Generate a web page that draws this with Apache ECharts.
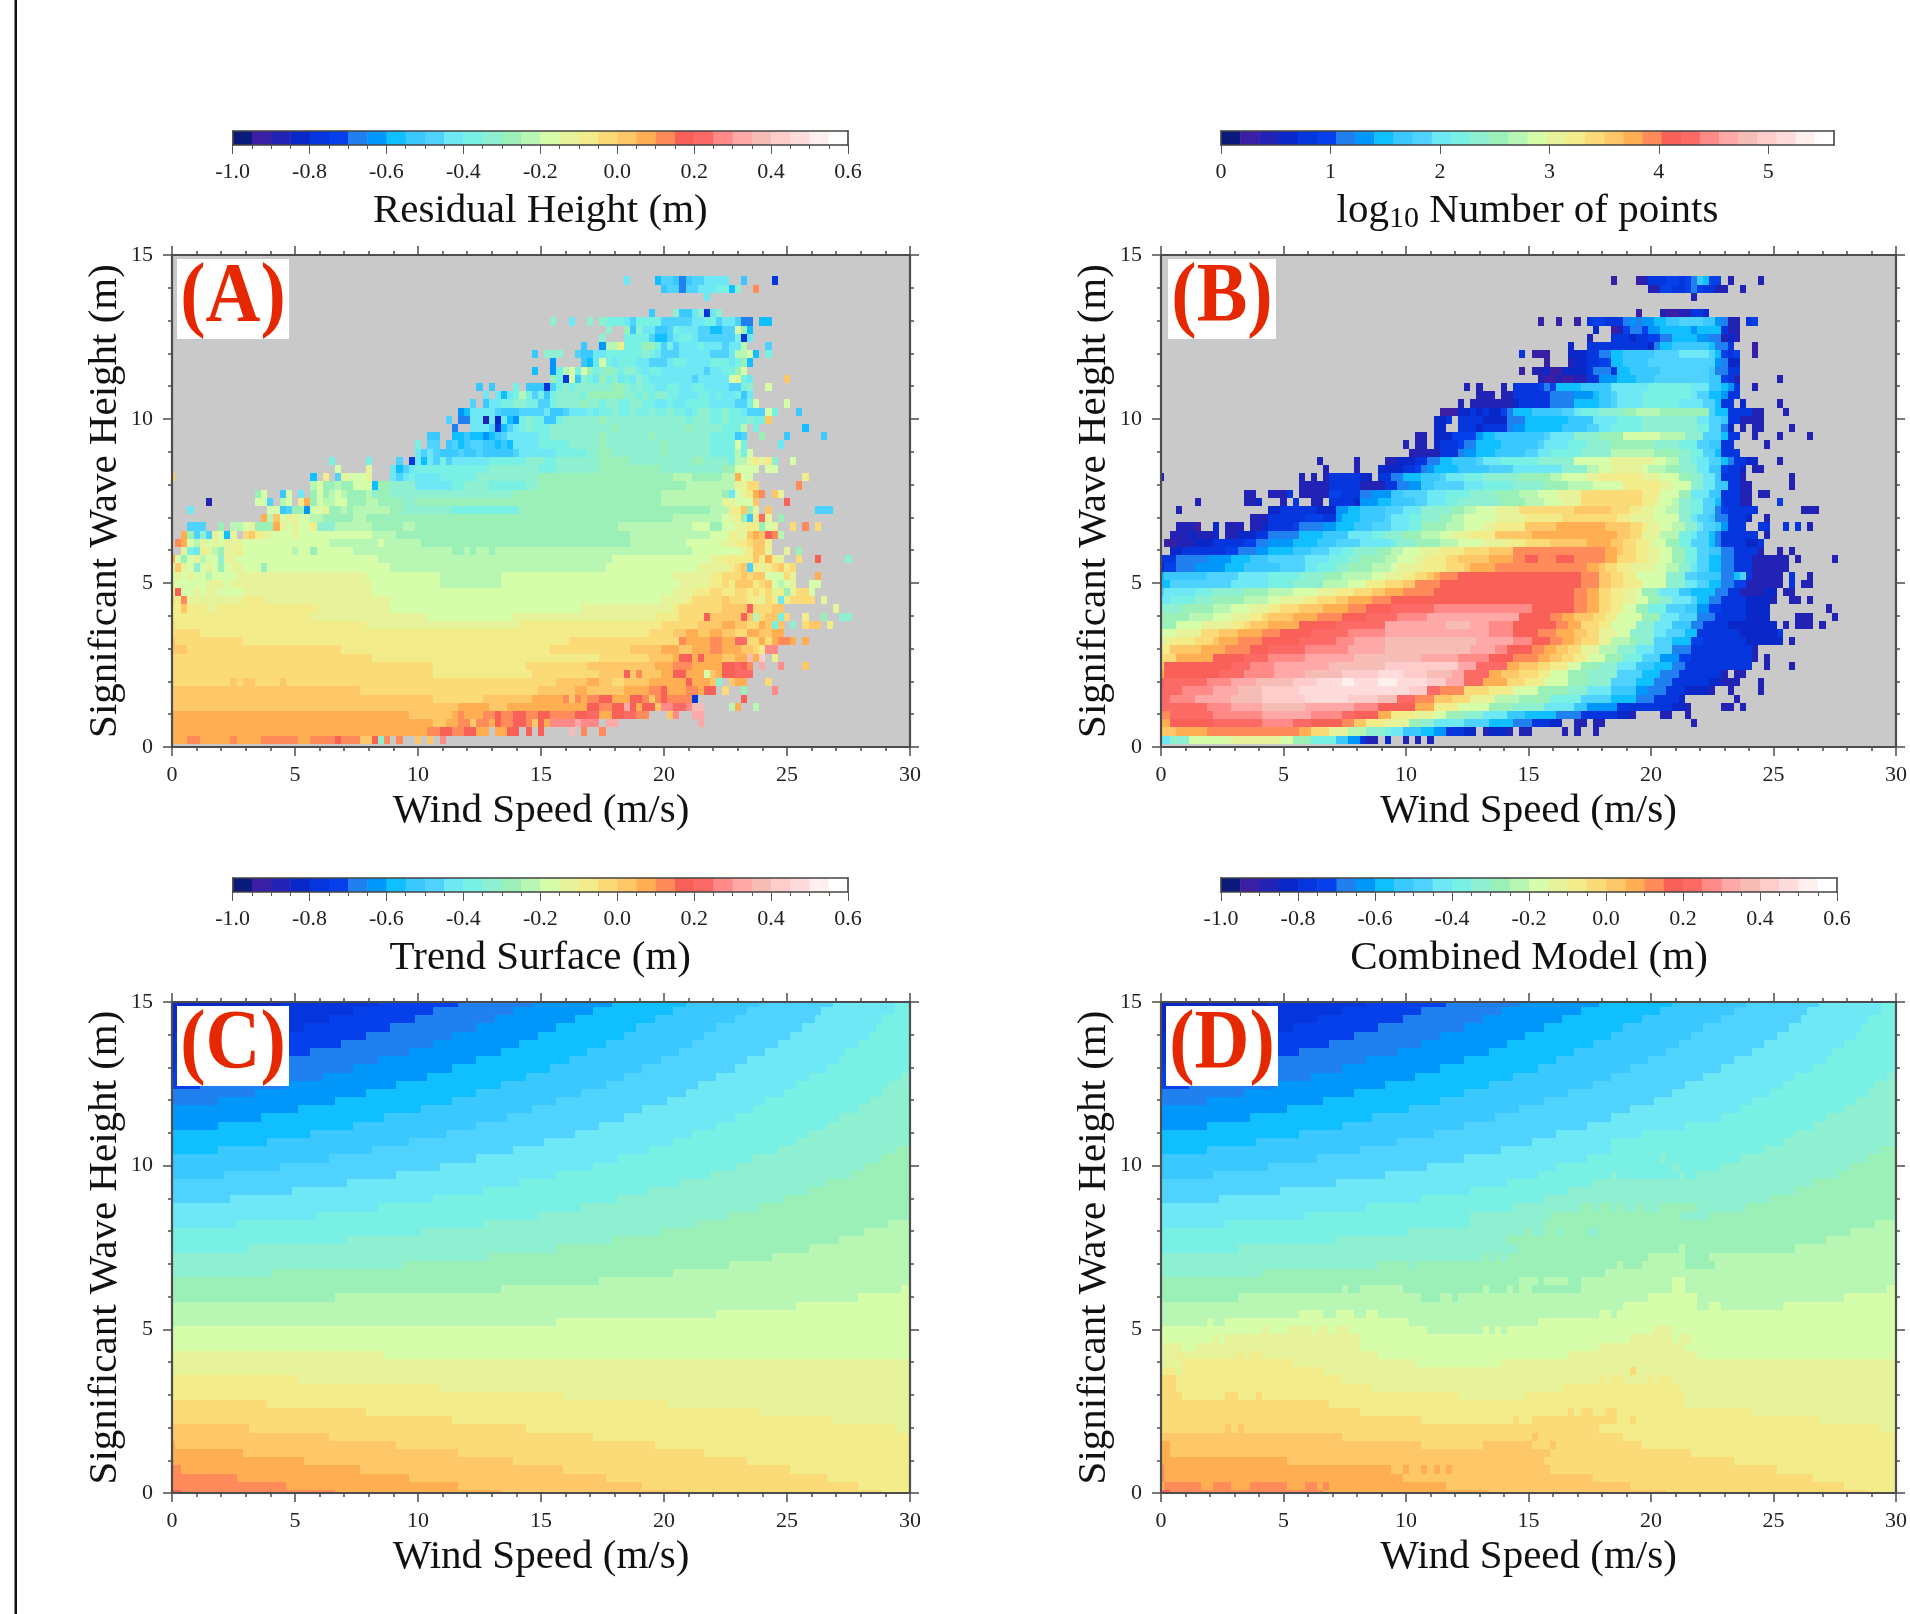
<!DOCTYPE html>
<html><head><meta charset="utf-8"><title>Residual height panels</title>
<script src="https://cdn.jsdelivr.net/npm/echarts@6/dist/echarts.min.js"></script>
<style>html,body{margin:0;padding:0;background:#fff}#chart{width:1910px;height:1614px;filter:blur(0.5px)}</style>
</head><body><div id="chart"></div>
<script>
// Tick labels
const windTicks = [0, 5, 10, 15, 20, 25, 30];
const waveTicks = [0, 5, 10, 15];
const metreBarTicks = [-1.0, -0.8, -0.6, -0.4, -0.2, 0.0, 0.2, 0.4, 0.6];
const logBarTicks = [0, 1, 2, 3, 4, 5];
// Colour classes of the bars: a..z then A..F, lowest to highest, "." = no data
const levelCodes = "abcdefghijklmnopqrstuvwxyzABCDEF";
// Rows run from 15 m down to 0 m. Each token: start column (0.25 m/s each), then class codes; the last code runs on.
const residualRows = [
"","","",
"74l 75. 79ikkjgjkkllllm 91. 93j 94. 98e 99.",
"80jkkgkklllmmin 93. 95w 96.",
"87l 88.",
"",
"78j 79. 82njjlneln 90.",
"62n 63. 65l 66. 68n 69. 70nmmmlkmmmmkkkkkllmmkllkgg.ii 98.",
"71n..ojnlljjkmlllkkiikkqoi 95.",
"70n 71. 74mmmmkiiklmmlkkkkkkmel 95.",
"67j 68. 70hppsmmmoomkmklllmlllkllp 94. 97k 98.",
"59j 60. 61nnn 64. 66kjjllmmmmmmnmlkkklllllkkklppqi.m 98.",
"62h 63. 67jilqmlmmmllkkklmmllllmmmlmoi 95.",
"59i 60. 62hmpqmqomnonmnnmlmmlllllllkllmmoq 94.",
"62omeqjnmlomnlmlnmlllllllklllllqrml 95. 100u 101.",
"50j 51. 52j 53. 56m 57. 58jjjekmnmnnnnnnoonmnmmllmmllmmllllkkmn 95. 97q 98.",
"51l 52. 53lilmpmkmjmnnnnmoooooonnmnmnnmmlllmmlmllmjl 95.",
"49k 50. 51jllmmnnmmkkmnnnnonnmnnmmnnmmllmllmmmmllllkkmq 96. 100q 101.",
"47hillllkjjjkkkkljjklllmlmmnmmnmmnmmnmmlmnnmmnmmlkkk 97qm 99. 102j 103.",
"45k 46. 47ggllcldlihmnmmjjmnnnnnnonnnnnnnnnnnnnmnnnmmnmmmnm 97u 98.",
"46g 47. 49lllkeiklmnmmm 62n 72o 73n 84o 85n 90m 93p 94. 95m 96. 103i 104.",
"42jj 44. 46iijiihijk 55l 60m 62n 70o 71n 78o 79n 88m 92j 93k 94. 96o 97. 100j 101. 106j 107.",
"40m 41. 42kk 44. 45jkijkkjjiji 56l 60m 65n 70o 71n 80o 81n 88m 92q 93m 94. 99l 100.",
"40lklkj 45jjkjjkjjj 56k 57l 63m 68n 70o 72n 80o 81n 88m 92p 93m 94q 95.",
"26m 27. 32m 33. 37k 38. 39elilkmk 46l 52m 58n 61m 63n 70o 75n 85o 87n 91m 92p 94rsrs 98n 99. 101q 102.",
"27q 28. 32r 33. 36likl 40m 52n 60m 63n 70o 80n 90o 92q 96. 97qq 99.",
"0u 1. 23i 24. 25s 26. 27krqqq 32r 33. 36lklm 40l 44m 50n 60o 82p 85o 90p 92v 93q 95. 103s 104.",
"23pqoopooqqqi 34o 36n 40l 46m 48n 52m 58n 60o 84p 92r 94tt 96. 102w 103.",
"14oq 16. 18jq 20. 21l 22. 23oqopqpooopnoon 37n 56o 80p 90o 91l 92q 93r 94sv 96w 97. 98ur 100.",
"6c 7. 14qq 16k 17. 18p 19q 20. 21sv 23o 24qppqq 29o 32p 34o 38n 40o 80p 90r 92q 95u 96. 100x 101.",
"3l 4. 16q 18jk 20o 22hq 24qr 26oopo 30p 36o 38n 46m 57o 88p 91s 93u 94o 95r 96. 97u 98. 105kkk 108.",
"15v 16p 17u 18qr 21q 23p 25o 30p 32o 40o 82p 90q 91r 92s 93o 94j 95s 96y 97r 98. 99o 100.",
"3kkk 6. 8o 9. 10pp 12q 13r 14o 17v 18rqr 21q 23s 24n 27p 33o 38p 40o 73p 85q 88o 90q 92r 94s 96o 97q 98r 99. 101t 102. 103w 104. 105t 106.",
"2v 3oknkr 8q 9i 10r 11. 12tu 14s 15r 17q 20r 21q 33p 37o 75p 88q 91s 92r 94u 95v 96u 97x 98w 99p 100.",
"1wv 3qpr 6qrqr 10r 12q 26p 34q 35p 41o 75p 84q 90r 92s 94tuus 98.",
"2r 3ml 5s 6r 7p 8o 9r 11s 12q 20p 21q 23o 24q 30p 46o 48p 49o 50p 52o 53p 85q 93r 94s 95u 97r 98. 100r 101. 102o 103.",
"0v 1q 2o 3q 4r 5p 6q 8n 9r 11q 34p 72q 88r 90s 93s 95u 96s 97v 98s 99r 100. 102t 103. 105x 106. 110n 111.",
"0r 1u 2rqn 5qrqoq 10r 12q 15o 16q 36p 71q 86r 89r 91s 92t 93u 94k 95s 96r 97s 98t 99u 100s 101t 102.",
"0q 1r 2q 3r 4q 6p 7q 11r 32q 44p 54q 82r 88s 90t 93u 94t 95u 97q 100t 101r 102. 105v 106.",
"0r 1q 6r 9q 10r 33q 44p 54q 83r 88s 90t 91s 92u 95s 96t 97u 98q 99p 100q 101r 102. 104qq 106.",
"0s 1x 2q 4r 5q 6r 8q 12r 33q 82r 85s 88t 90s 92t 94s 95t 96s 97t 98r 99s 100o 101r 102t 104q 105.",
"0t 1s 2w 3r 12s 16r 36q 80r 84s 85t 90u 91t 94s 96r 97t 98s 99l 100s 101t 103t 105. 106r 107.",
"0s 2u 3s 6r 8s 24r 36q 67r 82s 83t 90u 94x 95t 98uu 100. 108r 109.",
"0s 23r 42q 56r 79s 83t 87x 88u 93x 94u 95p 96t 97u 99m 100t 101. 103s 104. 106o 107. 109n 111.",
"0t 1s 32r 57s 80t 86u 90v 92u 94t 96v 97u 98m 99u 100. 101n 102. 103t 104uu 106. 107s 108.",
"0t 5s 78t 82u 84v 86u 88v 90u 92t 94v 96u 98v 100.",
"0u 1t 12s 65t 83w 84v 88w 90v 92y 94t 96v 97t 98v 99w 101v 102. 103v 104.",
"0u 3t 28s 62t 75u 80v 83u 85v 88w 90v 93u 95t 96s 97zz 99.",
"0t 33s 70t 78u 82v 83x 85v 86x 87v 90u 92v 94B 95v 96C 97. 98s 99.",
"0t 43s 58t 68u 79v 82w 85v 90x 92y 93x 94w 95. 96A 97. 99z 100. 103u 104.",
"0t 43s 59t 70u 74x 75u 76w 77u 80v 82x 84v 87q 88u 89v 90x 92y 95.",
"0t 10u 11t 12uu 14t 18u 19t 63u 68v 70u 72t 74u 78v 84x 85v 88u 89n 90. 91u 92v 94. 97t 98.",
"0u 31t 60u 66v 68u 74v 78w 80x 81v 84w 86v 87x 89. 90t 91. 93o 94. 98z 99.",
"0u 43t 51u 59v 64w 65u 66w 67v 68w 70x 72v 75x 77w 78u 79w 80x 81w 85e 86. 93x 94.",
"0u 47v 52u 55v 68x 70w 72x 74A 75x 76v 77x 79u 80z 82y 84z 85BB 87. 91pv 93. 95p 96.",
"0v 39u 46v 47w 48v 51w 53x 54w 56x 58w 60x 62w 66x 68y 70v 72x 74y 76w 78. 81u 82z 83. 85AA 87.",
"0v 43u 45v 47w 49u 50w 52v 53x 54w 56x 58w 59u 60x 61v 62z 66A 67z 70. 71AA 73. 86A 87.",
"0v 42w 44x 46w 48x 50v 52. 53v 55x 57. 58x 59. 60x 61. 65B 66. 67w 68. 70w 71.",
"0v 3w 5v 10w 11v 15w 21v 23w 27x 28w 31u 33x 34n 35w 36. 37w 38. 40u 41. 42u 43. 44z 45.",
""
];
const countRows = [
"","","",
"74b 75. 78bceeeffefgjiff 92. 93c 94. 98c 99.",
"80ccffeefgfeecc 93. 95c 96.",
"87c 88.",
"",
"78b 79. 82cbbcc 87eed 90.",
"62b 63. 65b 66. 68b 69. 70effeee 76g 77h 78g 79h 81i 83j 85k 89j 91h 92g 93cc 95. 96ef 98.",
"71d 72. 74bc 76fggfh 81h 82i 87h 88i 92ecc 95.",
"70c 71. 74eeede 79eff 82gg 84ii 88hhg 92cdc 95.",
"67d 68. 70eeeeeeeeeed 81g 82i 84j 90i 91g 93e 94. 97b 98.",
"59e 60. 61bbb 64. 67ddd 70ee 72gg 74ii 76j 81k 85l 90k 91i 92f 93ef 95. 97b 98.",
"63b 64. 67cdd 70eeff 74i 76j 80k 91h 92g 93d 95.",
"59b 60. 61ccdbbddd 70e 71ggg 74e 75i 77j 82k 90j 91g 93e 95.",
"62cbbcb 67bccd 70e 72h 75i 78j 81k 90j 92f 93e 94c 95. 101c 102.",
"50c 51. 52c 53. 56c 57. 58eeeefgf 65i 69j 74l 80m 87l 90j 92i 93h 94e 95. 97c 98.",
"52cc 54c 55. 56cc 58e 64g 68h 71i 72j 74k 75l 79m 87l 88k 90i 92h 93e 95.",
"49c 50. 51cccccc 57cd 59e 64g 68i 72j 74k 75l 79m 85l 89k 91i 92e 94. 95d 96. 101c 102.",
"46bbb 49ddede 54dd 56fg 58i 61j 66k 68l 69m 72n 76o 78p 82o 90k 91i 93e 97c 99. 102c 103.",
"45d 47e 48. 49ee 51eed 55d 57g 60i 67j 71l 75m 79n 88l 90k 92j 93e 95c 99.",
"45d 47. 49eeed 53eee 57gh 60i 66j 70k 72l 74m 79n 88m 90k 92g 93d 94. 95c 96. 97cc 99. 103c 104.",
"42cc 44. 45ddd 48f 52h 53i 55j 63k 64l 68n 72o 76q 82p 86n 89k 92i 93e 95. 97c 98. 101c 102. 106c 107.",
"40c 41. 42cc 44. 45dee 48ef 50g 52i 56j 62k 63l 67m 70n 74o 81n 85m 88k 90j 92e 94. 99c 100.",
"41cccc 45c 46eee 49g 50h 52i 55j 60k 62l 64m 69n 74p 81o 85n 87m 89k 91i 92e 95.",
"26c 27. 32c 33. 37ccdddee 44g 46i 48j 52k 53l 56m 62n 68q 74r 81q 83p 85n 87m 88l 90k 92i 93g 94e 96d 98. 101c 102.",
"27c 28. 32c 33. 36dddd 40eefgh 45i 49j 54k 58l 66n 70p 72q 74r 79q 80p 83o 85n 88l 90j 92f 93e 95d 96. 97cc 99.",
"0c 1. 23c 24. 25c 26. 27c 28e 33d 35. 36ee 38g 40i 43j 46k 47l 50m 53n 59o 64p 66q 70r 72s 79r 82q 85o 87n 89l 91j 92e 95c 96. 103c 104.",
"23c 28e 33c 37e 39g 41h 43j 45k 50l 53m 58n 63o 67p 71q 76s 82r 84q 87n 89l 91j 93e 95c 97. 103c 104.",
"14cc 16. 18ccc 21e 22. 23c 28f 30e 33g 35h 38j 40k 44l 47m 51n 55o 59p 62q 65r 69t 79s 82q 85o 87l 90j 92e 95c 97. 98cc 100.",
"6c 7. 14ccd 17. 20c 21. 22e 23. 25cc 27. 28e 32d 33h 36i 38j 42k 44l 47m 49n 56o 60p 63q 66r 69t 79s 81r 82q 84p 85n 87m 89k 91i 92e 95c 97. 101f 102.",
"3c 4. 18ddeeeeeeddd 29h 31i 33j 37k 40l 43n 48o 50p 52q 55r 59t 68u 74t 77s 79r 81q 83p 85n 87m 89k 91g 92f 93e 98. 105ccc 108.",
"15ccc 18e 24f 27e 29h 30i 33j 37k 38l 41m 43n 46o 48p 50q 55r 60s 66t 75s 77r 81q 85n 87l 88k 90j 91g 93e 96d 97. 99c 100.",
"3cccb 7. 9d 10. 11ccc 14. 15ccd 18e 22f 23g 27h 29i 32j 35k 38l 41m 43o 47p 50q 53r 55s 60u 65v 73u 77t 79s 80r 82q 84p 86n 88l 89k 91j 92h 93e 96. 98ee 100. 102e 103. 104e 105. 106c 107.",
"2cccdcc 9d 10. 11ccddd 16e 18g 23i 27j 31l 35m 37n 40o 43p 46q 48r 51s 55u 61v 75u 77t 79r 82p 85m 87l 88k 90i 91g 92e 98. 99c 100.",
"1bbcccdd 9e 14f 16g 18h 22i 26j 29k 33l 38m 39n 42o 46p 49q 53r 57s 60t 64u 70v 74u 76t 78s 80r 81q 83o 85m 87k 90i 91g 92e 96d 98e 99.",
"2ddeeeeeee 11f 13g 16h 18i 22j 25k 28l 30m 32n 36o 38p 40q 43r 46s 50t 54u 58w 73v 75u 76t 78s 80r 82q 84o 86m 88k 90j 92g 94e 98c 99. 101c 102. 103c 104.",
"0e 3g 8h 12i 15j 18k 24l 28m 31n 33o 37p 39q 42r 44s 47t 49u 54v 58w 60x 62w 65x 68w 73v 75t 78s 80r 82q 84o 86m 88k 90i 92g 94e 97c 103. 104c 105. 110c 111.",
"0d 1f 3g 6h 11i 14j 20k 24l 26m 29n 31o 35p 38q 39r 43s 47t 50u 51v 55w 70v 72u 73t 75s 77r 81q 83p 85n 87l 88k 90i 92g 94e 97c 103.",
"0i 1j 8k 13l 18m 23n 27o 30p 35q 37r 40s 42t 44u 45v 46w 49x 69w 72u 74t 76s 78q 83n 86k 88j 92g 94i 95k 96e 97c 102. 103e 104. 106c 107.",
"0i 2k 12l 18m 22n 27p 31q 34s 37t 40u 42w 46x 69w 72u 74t 76s 79q 83n 86l 88k 90i 92g 94f 96c 102. 103e 104. 105cc 107.",
"0k 1l 6m 9n 14o 18p 22q 26r 29s 32t 35u 37v 40w 45x 68w 70v 72t 74s 76r 78q 79o 81n 82l 85j 87i 91g 93e 95c 99d 101. 102cc 104.",
"0l 2m 6n 9o 14p 18q 20r 24s 26t 29u 31v 35w 38x 68w 70v 72t 74s 76r 78q 80o 82n 84l 87k 88i 90g 92e 96d 100c 101. 103cc 105. 106c 107.",
"0n 4o 9p 12q 15r 18s 20t 23u 27v 31w 34x 38y 45z 61x 68w 70v 72t 74s 76q 78o 80m 83k 86j 88h 90f 92e 96d 100. 109c 110.",
"0o 5p 9q 12r 15s 17t 18u 22v 26w 30x 34y 39z 44A 59x 64w 66v 68u 71t 73s 75q 79o 82l 85k 88g 91e 96d 100. 104cc 106c 107. 110c 111.",
"0o 3q 7r 12s 14t 15u 18v 23x 29y 37A 47B 51A 54z 58x 65w 67v 69t 72s 74q 78n 81l 84j 87g 89e 93d 101. 102c 103. 104ccc 107. 108c 109.",
"0q 3r 7t 10u 13v 17w 20x 25y 31z 37A 54z 58x 62w 65v 68u 70t 72r 75q 77n 81l 83k 86i 88e 95d 101e 102.",
"0r 2s 6t 9u 10v 13w 17x 23y 29z 32A 37B 52A 58z 61x 64w 66v 68u 69t 72r 74p 77o 78n 81k 84i 87f 89e 96d 102. 103c 104.",
"0s 2u 7v 11w 15x 18y 24z 31A 37B 51A 55z 57x 61w 63v 65u 67t 69r 72p 75n 78l 81k 84g 87e 97c 98.",
"0t 3v 9x 14y 18z 24A 32B 43A 49z 54x 58w 62v 64u 66t 68s 70q 73o 76m 79k 82h 85f 87e 97c 98. 99c 100.",
"0u 1x 12y 15z 19A 28B 37C 49A 52y 57v 59u 62t 64s 67q 69o 72n 75l 78j 81i 84g 86e 97. 99c 100. 103c 104.",
"0v 1x 10y 14z 19A 24B 30C 36D 40C 44B 48A 50y 54v 56u 59t 62s 64q 67o 70n 75k 79i 82g 85e 92c 93. 94c 96.",
"0x 1y 8z 12A 16B 22C 26D 30E 32D 36E 39D 44C 47A 50y 53v 57t 60s 63q 67o 70n 74k 78i 81g 84e 90d 92c 95. 98c 99.",
"0y 4z 9A 13B 17C 23D 41C 44y 46w 50t 54s 58q 62o 67n 70l 74j 78h 80g 83e 86d 90c 91. 93c 94. 98c 99.",
"0y 2z 6A 12B 17C 24D 31C 36B 39y 42w 45u 48t 51r 55p 59o 64m 69k 74i 78g 81e 85d 86. 94c 95.",
"0y 8z 12A 17B 24A 32z 36x 42v 45s 49q 54o 58n 63l 68j 70h 75e 84d 86c 87. 92cc 94. 95c 96.",
"0w 2y 9z 17A 25z 30y 32x 36v 38s 42r 45q 47o 50n 53l 57j 60i 65g 69e 75d 77c 78. 82cc 84. 86c 87.",
"0v 2x 9y 17z 22y 25x 30w 32u 34s 37r 41o 43n 45l 50k 54i 58g 61e 64d 66. 68c 70. 71c 73. 87c 88.",
"0u 3v 8w 23v 25t 28r 31p 34n 37m 38l 40j 43i 45h 47e 50d 52. 53cd 55d 57c 58. 59c 61. 66c 67. 68c 69. 71c 72.",
"0l 2n 5q 12r 20q 22o 25m 29j 31h 33e 34c 36. 37d 38. 40c 41. 42c 43. 44c 45.",
""
];
// Upper part, shared by the trend surface and the combined model
const surfaceUpperRows = [
"0d 18e 34f 47g 59h 72i 84j 96k 108l 118m",
"0d 14e 30f 43g 56h 69i 82j 94k 106l 118m",
"0d 8e 26f 40g 53h 66i 79j 92k 105l 116m",
"0d 3e 22f 36g 50h 63i 76j 89k 103l 115m",
"0d 1e 17f 32g 46h 60i 74j 87k 101l 114m",
"0e 13f 28g 43h 57i 71j 85k 99l 112m",
"0e 8f 23g 39h 54i 68j 83k 97l 110m",
"0e 3f 18g 34h 50i 65j 80k 94l 109m",
"0e 1f 14g 30h 46i 62j 77k 92l 107m",
"0f 9g 25h 42i 58j 74k 89l 104m 119n",
"0f 5g 19h 37i 54j 71k 86l 102m 117n",
"0g 14h 32i 50j 67k 84l 100m 116n",
"0g 8h 27i 46j 63k 81l 97m 114n",
"0h 21i 41j 59k 77l 95m 112n",
"0h 15i 35j 55k 74l 92m 109n"
];
const trendLowerRows = [
"0h 8i 30j 50k 70l 89m 107n",
"0i 23j 45k 66l 85m 104n",
"0i 16j 39k 61l 82m 102n",
"0i 8j 33k 56l 78m 99n 118o",
"0j 26k 50l 73m 95n 116o",
"0j 18k 44l 69m 92n 113o",
"0j 9k 37l 63m 88n 111o",
"0k 29l 57m 83n 107o",
"0k 20l 51m 78n 104o",
"0k 10l 43m 73n 100o",
"0l 34m 67n 96o",
"0l 24m 60n 91o",
"0l 11m 51n 86o 117p",
"0m 41n 80o 113p",
"0m 29n 72o 109p",
"0m 13n 63o 104p",
"0n 52o 98p",
"0n 38o 91p",
"0n 17o 82p",
"0o 70p",
"0o 54p 119q",
"0o 27p 112q",
"0p 102q",
"0p 89q",
"0p 63q",
"0q","0q","0q",
"0r 35q",
"0r","0r",
"0s 21r","0s 44r","0s 64r",
"0t 16s 81r","0t 32s 96r","0t 46s 108r",
"0u 13t 58s 118r",
"0u 26t 69s",
"0v 1u 37t 79s",
"0v 12u 47t 87s",
"0v 22u 56t 94s",
"0w 2v 31u 64t 101s",
"0w 11v 39u 71t 107s",
"0w 19v 47u 77t 112s",
"0x 2w 27v 54u 83t 116s"
];
const combinedLowerRows = [
"0h 8i 30j 50k 70l 86m 107n",
"0i 23j 45k 65l 79m 104n",
"0i 16j 39k 61l 74m 102n",
"0i 8j 33k 56l 74m 99n 118o",
"0j 26k 50l 70m 82n 83m 95n 116o",
"0j 18k 44l 65m 84n 85m 92n 113o",
"0j 9k 37l 62m 74n 75m 85n 86m 88n 111o",
"0k 29l 57m 71n 107o",
"0k 20l 51m 67n 104o",
"0k 10l 43m 63n 100o",
"0l 34m 58n 69o 71n 72o 74n 75o 76n 78o 79n 82o 88n 96o",
"0l 24m 51n 64o 85n 90o",
"0l 11m 51n 63o 117p",
"0m 41n 60o 61n 63o 65n 66o 70n 72o 113p",
"0m 29n 57o 109p",
"0m 13n 59o 85p 86o 104p",
"0n 53o 54n 55o 56n 57o 80p 86o 90p",
"0n 36o 41n 42o 75p 76o 79p 86o 91p",
"0n 17o 73p",
"0o 59p 62o 63p 67o 69p 84q 86p",
"0o 30p 31o 33p 40o 53p 54o 57p 58o 59p 61o 69p 84q 86p 119q",
"0o 13p 43o 46p 48o 49p 80q 88p 112q",
"0p 76q 88p 90q 92p 102q",
"0p 23q 27p 29q 32p 34q 36p 72q 74p 75q",
"0p 8q 9p 11q 41p 62q",
"0q 17r 18q 21r 25q 26r 28q 29r 31q 44p 53q 54p 55q 56p 57q 81r 84q",
"0q 9r 10q 11r 33q 77r 84q 85r 87q",
"0r 4q 6r 33q 72r 86q",
"0r 3s 4r 13s 14r 15s 17r 36q 67r 88q",
"0r 4s 22r 42q 56r",
"0s 3r 4s 27r 77t 78r",
"0t 3s 30r 72s 73r 74s 76r 80s 81r 82s 84r",
"0t 3s 35r 66s 85r",
"0t 4s 11t 13s 16t 17s 49r 60s 86r",
"0t 28s 86r",
"0t 33s 67t 68s 69t 71s 73t 75s 97r",
"0t 43s 58t 59s 61t 75s 77t 78s 108r",
"0t 11u 12t 13u 14t 72s 118r",
"0u 30t 61u 62t 76s",
"0v 2u 43t 53u 61t 64u 65t 79s",
"0v 2u 64t 87s",
"0v 21u 63t 94s",
"0w 1v 38u 40v 41u 43v 44u 45v 46u 47v 48u 64t 101s",
"0w 1v 40u 71t 107s",
"0v 1w 7v 9w 12v 15w 21v 24w 26v 27w 28v 47u 77t 112s",
"0x 2w 27v 54u 83t 116s"
];
const trendRows = surfaceUpperRows.concat(trendLowerRows);
const combinedRows = surfaceUpperRows.concat(combinedLowerRows);

// Palette of the 32 colour classes
const palette = ["#0a1a7a","#3a1fa5","#2222b5","#0a28c8","#0535dc","#0540ea","#2080f0","#0096fa","#10bfff","#3ac8ff","#50d2ff","#6ee8f4","#78f0e4","#8ef0d0","#9bf0b8","#b8f6b4","#d6fdaa","#e6f39a","#f3ec8a","#fadb78","#fec868","#ffae52","#ff8a5a","#f86058","#fc6a66","#ff8a88","#ffa8a8","#f6bcb6","#ffcccc","#ffdcdc","#fff0f0","#ffffff"];

const COLS = 121, CELL = 0.25, ROW_SHIFT = -0.03, FONT = "Liberation Serif", INK = "#222", FRAME = "#4d4d4d";

function decodeRow(text) {
  const out = new Array(COLS).fill(null);
  const tokens = text.split(/\s+/).filter(Boolean);
  tokens.forEach((tok, k) => {
    const m = tok.match(/^(\d+)(.+)$/);
    const start = +m[1], seq = m[2];
    const next = k + 1 < tokens.length ? +tokens[k + 1].match(/^\d+/)[0] : COLS;
    const lev = ch => ch === "." ? null : levelCodes.indexOf(ch);
    for (let i = 0; i < seq.length && start + i < COLS; i++) out[start + i] = lev(seq[i]);
    for (let c = start + seq.length; c < next && c < COLS; c++) out[c] = lev(seq[seq.length - 1]);
  });
  return out;
}
function buildCells(rows, barMin, barStep) {
  const cells = [];
  rows.forEach((text, r) => {
    const j = rows.length - 1 - r;
    decodeRow(text).forEach((lev, c) => {
      if (lev !== null) cells.push([c * CELL, j * CELL + ROW_SHIFT, barMin + barStep * (lev + 0.5)]);
    });
  });
  return cells;
}
function cellRenderer(barMin, barStep) {
  return function (params, api) {
    const x = api.value(0), y = api.value(1), v = api.value(2);
    const a = api.coord([x - CELL / 2, y + CELL / 2]);
    const b = api.coord([x + CELL / 2, y - CELL / 2]);
    const x0 = Math.round(a[0]), y0 = Math.round(a[1]);
    return { type: "rect", silent: true,
      shape: { x: x0, y: y0, width: Math.round(b[0]) - x0, height: Math.round(b[1]) - y0 },
      style: { fill: palette[Math.floor((v - barMin) / barStep)] } };
  };
}
function barRenderer(barMin, barStep) {
  return function (params, api) {
    const lev = api.value(0);
    const a = api.coord([barMin + barStep * lev, 1]);
    const b = api.coord([barMin + barStep * (lev + 1), 0]);
    return { type: "rect", silent: true,
      shape: { x: a[0], y: a[1], width: b[0] - a[0] + 0.5, height: b[1] - a[1] },
      style: { fill: palette[lev] } };
  };
}

const panels = [
  { tag: "(A)", rows: residualRows, min: -1, step: 0.05, bg: "#c9c9c9", left: 172, width: 738, top: 255, height: 492, boxLeft: 177, boxW: 112,
    barLeft: 232.6, barW: 615.4, barTop: 131, barName: "Residual Height (m)" },
  { tag: "(B)", rows: countRows, min: 0, step: 0.175, bg: "#c9c9c9", left: 1161, width: 735, top: 255, height: 492, boxLeft: 1168, boxW: 108,
    barLeft: 1221, barW: 613, barTop: 131, barName: "{t|log}{s|10}{t| Number of points}" },
  { tag: "(C)", rows: trendRows, min: -1, step: 0.05, bg: "#fff", left: 172, width: 738, top: 1002, height: 491, boxLeft: 177, boxW: 112,
    barLeft: 232.6, barW: 615.4, barTop: 878, barName: "Trend Surface (m)" },
  { tag: "(D)", rows: combinedRows, min: -1, step: 0.05, bg: "#fff", left: 1161, width: 738, top: 1002, height: 491, boxLeft: 1166, boxW: 112,
    barLeft: 1221, barW: 616, barTop: 878, barName: "Combined Model (m)" }
];

const grids = [], xAxes = [], yAxes = [], series = [], graphics = [];
const tickStyle = { color: FRAME, width: 1.5 };
const lineStyle = { color: FRAME, width: 2.2 };

panels.forEach((p, pi) => {
  // main panel
  const g = grids.length;
  grids.push({ left: p.left, top: p.top, width: p.width, height: p.height, show: true, backgroundColor: p.bg, borderWidth: 0, containLabel: false });
  const base = { gridIndex: g, type: "value", splitLine: { show: false }, minorSplitLine: { show: false }, z: 5,
    axisLine: { show: true, onZero: false, lineStyle }, axisTick: { show: true, length: 9, lineStyle: tickStyle },
    minorTick: { show: true, splitNumber: 5, length: 4, lineStyle: tickStyle } };
  const xi = xAxes.length, yi = yAxes.length;
  xAxes.push(Object.assign({}, base, { position: "bottom", min: windTicks[0], max: windTicks[windTicks.length - 1], interval: 5,
    axisLabel: { fontFamily: FONT, fontSize: 22, color: INK, margin: 17, showMinLabel: true, showMaxLabel: true, hideOverlap: false },
    name: "Wind Speed (m/s)", nameLocation: "middle", nameGap: 64, nameMoveOverlap: false,
    nameTextStyle: { fontFamily: FONT, fontSize: 41, color: "#111", verticalAlign: "middle" } }));
  xAxes.push(Object.assign({}, base, { position: "top", min: windTicks[0], max: windTicks[windTicks.length - 1], interval: 5, axisLabel: { show: false } }));
  yAxes.push(Object.assign({}, base, { position: "left", min: waveTicks[0], max: waveTicks[waveTicks.length - 1], interval: 5,
    axisLabel: { fontFamily: FONT, fontSize: 22, color: INK, margin: 19, showMinLabel: true, showMaxLabel: true, hideOverlap: false },
    name: "Significant Wave Height (m)", nameLocation: "middle", nameGap: 67, nameRotate: 90, nameMoveOverlap: false,
    nameTextStyle: { fontFamily: FONT, fontSize: 41, color: "#111", verticalAlign: "middle" } }));
  yAxes.push(Object.assign({}, base, { position: "right", min: waveTicks[0], max: waveTicks[waveTicks.length - 1], interval: 5, axisLabel: { show: false } }));
  series.push({ name: "panel" + pi, type: "custom", coordinateSystem: "cartesian2d", xAxisIndex: xi, yAxisIndex: yi, clip: true, silent: true, animation: false, progressive: 0,
    renderItem: cellRenderer(p.min, p.step), encode: { x: 0, y: 1 }, data: buildCells(p.rows, p.min, p.step), z: 2 });

  // colour bar
  const isLog = p.min === 0;
  const barMax = p.min + p.step * palette.length;
  const gb = grids.length;
  grids.push({ left: p.barLeft, top: p.barTop, width: p.barW, height: 14, show: false, containLabel: false });
  const barTicks = isLog ? logBarTicks : metreBarTicks;
  const bxi = xAxes.length, byi = yAxes.length;
  const bb = { gridIndex: gb, type: "value", splitLine: { show: false }, z: 5,
    axisLine: { show: true, onZero: false, lineStyle: { color: "#444", width: 1.6 } } };
  xAxes.push(Object.assign({}, bb, { position: "bottom", min: p.min, max: barMax,
    interval: isLog ? 1 : 0.2,
    axisTick: { show: true, length: 9, lineStyle: { color: "#555", width: 1 }, customValues: isLog ? barTicks : undefined },
    minorTick: { show: !isLog, splitNumber: 4, length: 4, lineStyle: { color: "#555", width: 1 } },
    axisLabel: { fontFamily: FONT, fontSize: 22, color: INK, margin: 16, hideOverlap: false, showMinLabel: true, showMaxLabel: true,
      customValues: isLog ? barTicks : undefined,
      formatter: v => isLog ? String(v) : Number(v).toFixed(1) },
    name: p.barName, nameLocation: "middle", nameGap: 66, nameMoveOverlap: false,
    nameTextStyle: { fontFamily: FONT, fontSize: 41, color: "#111", verticalAlign: "middle",
      rich: { t: { fontFamily: FONT, fontSize: 41, color: "#111", lineHeight: 46 },
              s: { fontFamily: FONT, fontSize: 30, color: "#111", lineHeight: 46, verticalAlign: "bottom", padding: [14, 0, 0, 0] } } } }));
  xAxes.push(Object.assign({}, bb, { position: "top", min: p.min, max: barMax, axisTick: { show: false }, axisLabel: { show: false } }));
  yAxes.push(Object.assign({}, bb, { position: "left", min: 0, max: 1, axisTick: { show: false }, axisLabel: { show: false } }));
  yAxes.push(Object.assign({}, bb, { position: "right", min: 0, max: 1, axisTick: { show: false }, axisLabel: { show: false } }));
  series.push({ name: "bar" + pi, type: "custom", coordinateSystem: "cartesian2d", xAxisIndex: bxi, yAxisIndex: byi, silent: true, animation: false, clip: true, progressive: 0,
    renderItem: barRenderer(p.min, p.step), encode: { x: 0 }, data: palette.map((c, i) => [i]), z: 2 });

  // panel tag
  graphics.push({ type: "rect", z: 20, shape: { x: p.boxLeft, y: p.top + 4, width: p.boxW, height: 80 }, style: { fill: "#fff" } });
  graphics.push({ type: "text", z: 21, x: p.boxLeft + p.boxW / 2, y: p.top + 44, scaleX: 1, scaleY: 1.12,
    style: { text: p.tag, font: "bold 76px '" + FONT + "'", fill: "#e62800", align: "center", verticalAlign: "middle" } });
});
// page border on the left
graphics.push({ type: "rect", z: 20, shape: { x: 14.5, y: 0, width: 2.5, height: 1614 }, style: { fill: "#111" } });

const chart = echarts.init(document.getElementById("chart"), null, { renderer: "canvas", width: 1910, height: 1614 });
chart.setOption({ animation: false, backgroundColor: "#fff", grid: grids, xAxis: xAxes, yAxis: yAxes, series, graphic: graphics, tooltip: { show: false } });
</script></body></html>
